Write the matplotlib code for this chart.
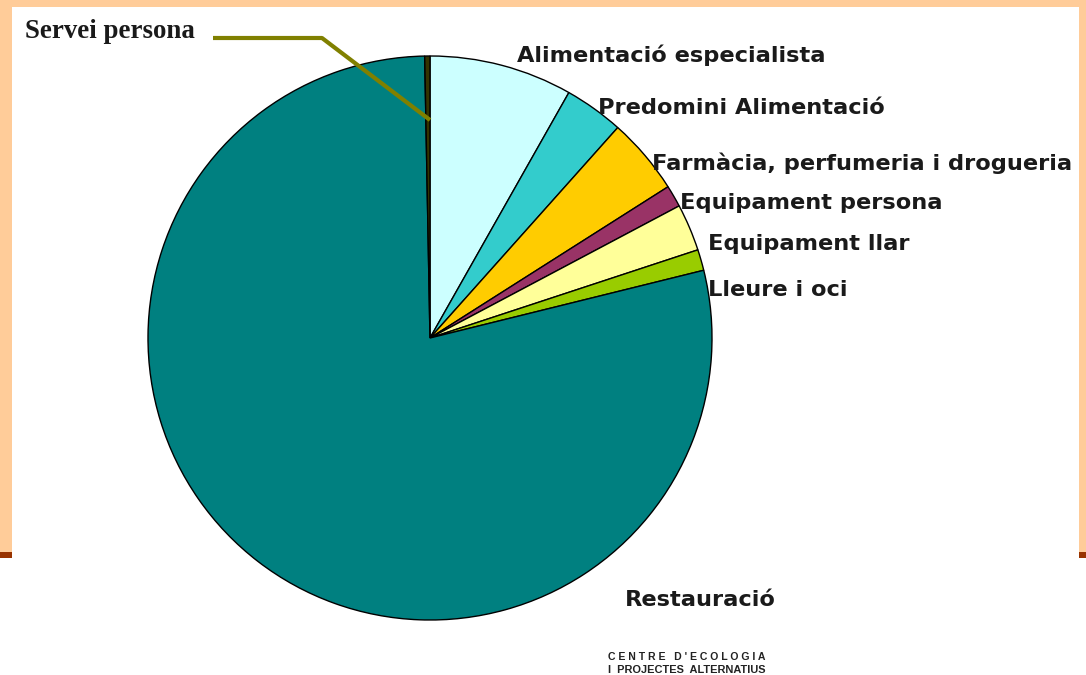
import matplotlib.pyplot as plt
from matplotlib.patches import Rectangle

W, H = 1086, 675

categories = ['Alimentació especialista', 'Predomini Alimentació',
              'Farmàcia, perfumeria i drogueria', 'Equipament persona',
              'Equipament llar', 'Lleure i oci', 'Restauració', 'Servei persona']
shares = [8.2, 3.4, 4.4, 1.25, 2.7, 1.2, 78.6, 0.3]
colors = ['#CCFFFF', '#33CCCC', '#FFCC00', '#993366',
          '#FFFF99', '#99CC00', '#008080', '#333300']

# label anchors (left edge, middle) in picture pixels, y from top
label_pos = {
    'Alimentació especialista': (517, 55),
    'Predomini Alimentació': (598, 108),
    'Farmàcia, perfumeria i drogueria': (652, 163),
    'Equipament persona': (680, 203),
    'Equipament llar': (708, 244),
    'Lleure i oci': (708, 290),
    'Restauració': (625, 600),
}

fig = plt.figure(figsize=(W / 100, H / 100), dpi=100)
fig.patch.set_facecolor('white')
ax = fig.add_axes([0, 0, 1, 1])

ax.pie(shares, colors=colors, startangle=90, counterclock=False,
       center=(430, H - 338), radius=282,
       wedgeprops=dict(edgecolor='black', linewidth=1.0))
ax.set_xlim(0, W)
ax.set_ylim(0, H)
ax.set_aspect('equal')
ax.axis('off')

# slide frame behind the chart
orange = '#FFCC99'
brown = '#993300'
for x, y, w, h, c in [(0, H - 7, W, 7, orange),
                      (0, H - 552, 12, 552, orange),
                      (1079, H - 552, W - 1079, 552, orange),
                      (0, H - 558, 12, 6, brown),
                      (1079, H - 558, W - 1079, 6, brown)]:
    ax.add_patch(Rectangle((x, y), w, h, facecolor=c, edgecolor='none', zorder=0))

for name, (x, y) in label_pos.items():
    ax.text(x, H - y, name, fontsize=16.2, fontweight='bold',
            family='DejaVu Sans', color='#1a1a1a', ha='left', va='center')

# leader line for the thin slice
ax.plot([213, 322, 430], [H - 38, H - 38, H - 120], color='#808000', lw=3,
        solid_capstyle='butt', zorder=5)
ax.text(25, H - 31, 'Servei persona', fontsize=19.4, fontweight='bold',
        family='Liberation Serif', color='#1a1a1a', ha='left', va='center')

ax.text(608, H - 657, "C E N T R E   D ' E C O L O G I A", fontsize=7.6,
        fontweight='bold', family='Liberation Sans', color='#222222',
        ha='left', va='center')
ax.text(608, H - 670, 'I  PROJECTES  ALTERNATIUS', fontsize=7.9,
        fontweight='bold', family='Liberation Sans', color='#222222',
        ha='left', va='center')

fig.savefig('out.png', dpi=100)
